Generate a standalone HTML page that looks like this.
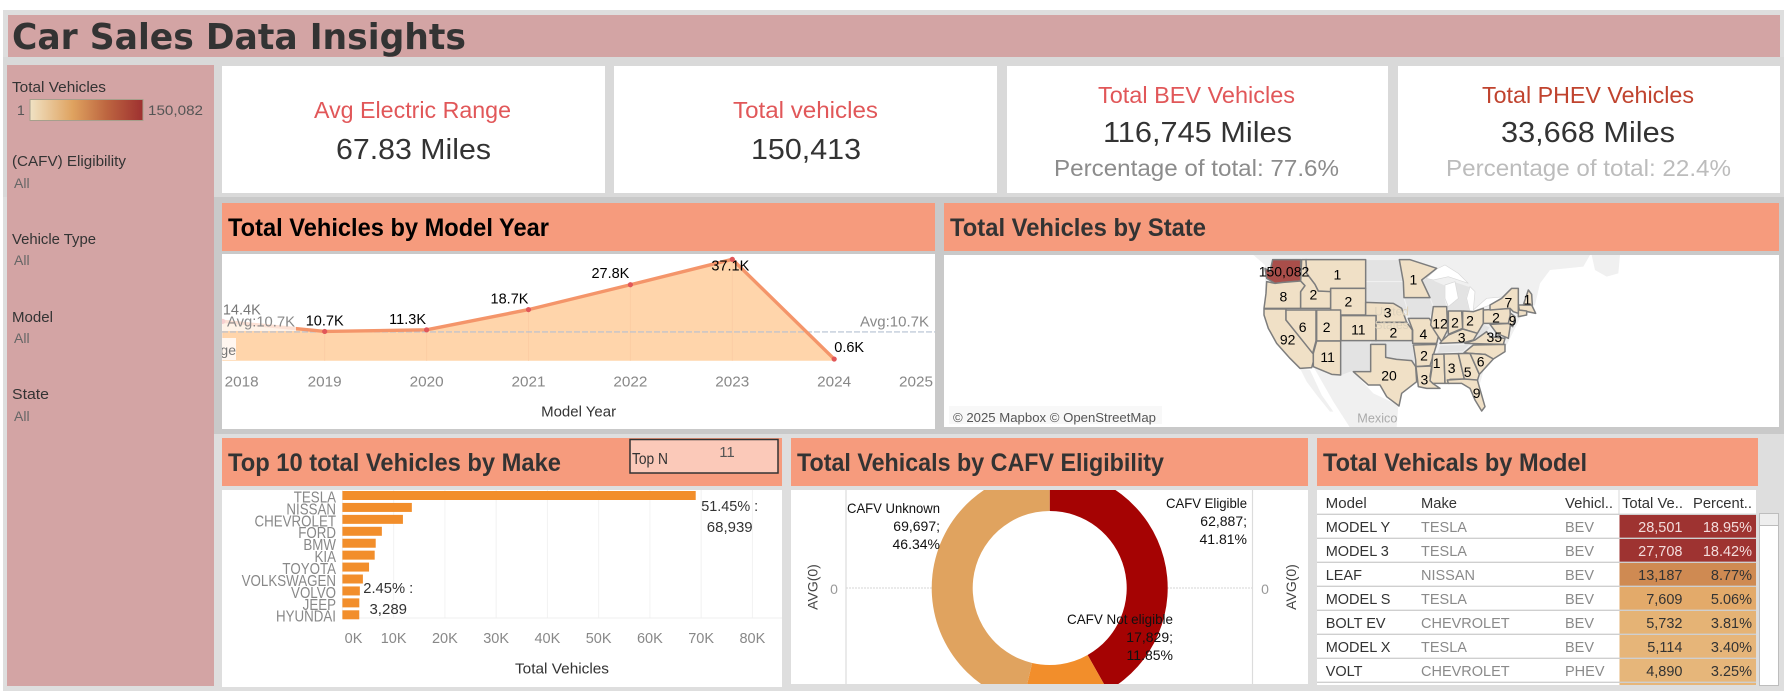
<!DOCTYPE html>
<html lang="en">
<head>
<meta charset="utf-8">
<title>Car Sales Data Insights</title>
<style>
html,body{margin:0;padding:0;background:#fff;width:1788px;height:691px;overflow:hidden}
svg{display:block}
text{font-family:"Liberation Sans",sans-serif}
.b{font-weight:bold}
</style>
</head>
<body>
<svg id="dash" xmlns="http://www.w3.org/2000/svg" width="1788" height="691" viewBox="0 0 1788 691">
<defs>
<linearGradient id="legendGrad" x1="0" x2="1" y1="0" y2="0">
<stop offset="0" stop-color="#f0e2c4"/><stop offset=".38" stop-color="#dfa25f"/><stop offset=".68" stop-color="#bd6540"/><stop offset="1" stop-color="#9e3030"/>
</linearGradient>
<clipPath id="lineClip"><rect x="222" y="254" width="713" height="175"/></clipPath>
<clipPath id="donutClip"><rect x="791" y="490" width="517" height="194"/></clipPath>
<clipPath id="mapClip"><rect x="944" y="255" width="835" height="172"/></clipPath>
</defs>

<rect x="3" y="10" width="1781" height="681" fill="#dedede"/>
<rect x="3" y="57" width="1781" height="140" fill="#d9d9d9"/>
<rect x="214" y="197" width="1570" height="237" fill="#c9c9c9"/>

<rect x="8" y="15" width="1772" height="42" fill="#d3a4a4"/>
<text class="b" x="12" y="49" font-size="36" fill="#333" textLength="454" lengthAdjust="spacingAndGlyphs" style="font-family:'DejaVu Sans',sans-serif">Car Sales Data Insights</text>

<g>
<rect x="7" y="65" width="207" height="621" fill="#d3a4a4"/>
<text x="12" y="92" font-size="15" fill="#333" textLength="94" lengthAdjust="spacingAndGlyphs">Total Vehicles</text>
<text x="17" y="115" font-size="14" fill="#555">1</text>
<rect x="30" y="99.5" width="113" height="21" fill="url(#legendGrad)" stroke="#a79f8c" stroke-width="1"/>
<text x="148" y="115" font-size="14" fill="#555" textLength="55" lengthAdjust="spacingAndGlyphs">150,082</text>
<text x="12" y="166" font-size="15" fill="#333" textLength="114" lengthAdjust="spacingAndGlyphs">(CAFV) Eligibility</text>
<text x="14" y="188" font-size="14" fill="#666">All</text>
<text x="12" y="244" font-size="15" fill="#333" textLength="84" lengthAdjust="spacingAndGlyphs">Vehicle Type</text>
<text x="14" y="265" font-size="14" fill="#666">All</text>
<text x="12" y="322" font-size="15" fill="#333" textLength="41" lengthAdjust="spacingAndGlyphs">Model</text>
<text x="14" y="343" font-size="14" fill="#666">All</text>
<text x="12" y="399" font-size="15" fill="#333" textLength="37" lengthAdjust="spacingAndGlyphs">State</text>
<text x="14" y="421" font-size="14" fill="#666">All</text>
</g>

<g>
<rect x="222" y="66" width="383" height="127" fill="#fff"/>
<text x="314" y="118" font-size="23" fill="#e15759" textLength="197" lengthAdjust="spacingAndGlyphs">Avg Electric Range</text>
<text x="336" y="159" font-size="29" fill="#333" textLength="155" lengthAdjust="spacingAndGlyphs">67.83 Miles</text>
</g>
<g>
<rect x="614" y="66" width="383" height="127" fill="#fff"/>
<text x="733" y="118" font-size="23" fill="#e15759" textLength="145" lengthAdjust="spacingAndGlyphs">Total vehicles</text>
<text x="751" y="159" font-size="29" fill="#333" textLength="110" lengthAdjust="spacingAndGlyphs">150,413</text>
</g>
<g>
<rect x="1007" y="66" width="381" height="127" fill="#fff"/>
<text x="1098" y="103" font-size="23" fill="#e15759" textLength="197" lengthAdjust="spacingAndGlyphs">Total BEV Vehicles</text>
<text x="1103" y="142" font-size="29" fill="#333" textLength="189" lengthAdjust="spacingAndGlyphs">116,745 Miles</text>
<text x="1054" y="176" font-size="23" fill="#8c8c8c" textLength="285" lengthAdjust="spacingAndGlyphs">Percentage of total: 77.6%</text>
</g>
<g>
<rect x="1398" y="66" width="382" height="127" fill="#fff"/>
<text x="1482" y="103" font-size="23" fill="#c0432e" textLength="212" lengthAdjust="spacingAndGlyphs">Total PHEV Vehicles</text>
<text x="1501" y="142" font-size="29" fill="#333" textLength="174" lengthAdjust="spacingAndGlyphs">33,668 Miles</text>
<text x="1446" y="176" font-size="23" fill="#bcbcbc" textLength="285" lengthAdjust="spacingAndGlyphs">Percentage of total: 22.4%</text>
</g>

<rect x="222" y="203" width="713" height="48" fill="#f69b7d"/>
<text class="b" x="228" y="236" font-size="25" fill="#000" textLength="321" lengthAdjust="spacingAndGlyphs">Total Vehicles by Model Year</text>
<rect x="222" y="254" width="713" height="175" fill="#fff"/>
<g id="lineChart"></g>

<rect x="944" y="203" width="835" height="48" fill="#f69b7d"/>
<text class="b" x="950" y="236" font-size="25" fill="#333" textLength="256" lengthAdjust="spacingAndGlyphs">Total Vehicles by State</text>
<rect x="944" y="255" width="835" height="172" fill="#fff"/>
<g id="mapChart" clip-path="url(#mapClip)"></g>
<rect x="949" y="406" width="213" height="18" fill="#f8f8f8"/>
<text x="953" y="422" font-size="13" fill="#555" textLength="203" lengthAdjust="spacingAndGlyphs">© 2025 Mapbox © OpenStreetMap</text>

<rect x="222" y="438" width="560" height="48" fill="#f69b7d"/>
<text class="b" x="228" y="471" font-size="25" fill="#333" textLength="333" lengthAdjust="spacingAndGlyphs">Top 10 total Vehicles by Make</text>
<rect x="630" y="439.5" width="148" height="33.5" fill="#fbc9b9" stroke="#333" stroke-width="1.5"/>
<text x="632" y="464" font-size="16" fill="#333" textLength="36" lengthAdjust="spacingAndGlyphs">Top N</text>
<text x="727" y="457" font-size="15" fill="#555" text-anchor="middle">11</text>
<rect x="222" y="490" width="560" height="197" fill="#fff"/>
<g id="barChart"></g>

<rect x="791" y="438" width="517" height="48" fill="#f69b7d"/>
<text class="b" x="797" y="471" font-size="25" fill="#333" textLength="367" lengthAdjust="spacingAndGlyphs">Total Vehicals by CAFV Eligibility</text>
<rect x="791" y="490" width="517" height="194" fill="#fff"/>
<g id="donutChart"></g>

<rect x="1317" y="438" width="441" height="48" fill="#f69b7d"/>
<text class="b" x="1323" y="471" font-size="25" fill="#333" textLength="264" lengthAdjust="spacingAndGlyphs">Total Vehicals by Model</text>
<rect x="1317" y="490" width="439" height="195" fill="#fff"/>
<g id="modelTable"></g>
<rect x="1759.5" y="513.5" width="19" height="172" fill="#fff" stroke="#bdbdbd" stroke-width="1"/>
<rect x="1759.5" y="513.5" width="19" height="12" fill="#eeeeee" stroke="#bdbdbd" stroke-width="1"/>
</svg>

<script>
// ---------- Line chart data ----------
const modelYears = [2018, 2019, 2020, 2021, 2022, 2023, 2024];
const yearVehiclesK = [14.4, 10.7, 11.3, 18.7, 27.8, 37.1, 0.6];
const yearTickLabels = [2018, 2019, 2020, 2021, 2022, 2023, 2024, 2025];
const averageK = [10.7];

// ---------- Bar chart data ----------
const makes = ['TESLA','NISSAN','CHEVROLET','FORD','BMW','KIA','TOYOTA','VOLKSWAGEN','VOLVO','JEEP','HYUNDAI'];
const makeVehicles = [68939, 13550, 11811, 7700, 6500, 6300, 5200, 4000, 3404, 3300, 3289];
const makeTickValues = [0, 10000, 20000, 30000, 40000, 50000, 60000, 70000, 80000];

// ---------- Donut data ----------
const cafvCategories = ['CAFV Eligible', 'CAFV Not eligible', 'CAFV Unknown'];
const cafvVehicles = [62887, 17829, 69697];

// ---------- Table data ----------
const tableModels = ['MODEL Y','MODEL 3','LEAF','MODEL S','BOLT EV','MODEL X','VOLT'];
const tableMakes = ['TESLA','TESLA','NISSAN','TESLA','CHEVROLET','TESLA','CHEVROLET'];
const tableTypes = ['BEV','BEV','BEV','BEV','BEV','BEV','PHEV'];
const tableTotals = [28501, 27708, 13187, 7609, 5732, 5114, 4890];
const tablePercents = [18.95, 18.42, 8.77, 5.06, 3.81, 3.40, 3.25];

// ---------- Map data ----------
const stateNames = ['WA','OR','ID','MT','WY','NE','CA','NV','UT','CO','KS','AZ','TX','MO','AR','LA','MS','AL','GA','SC','FL','IL','IN','OH','KY','VA','PA','NY','NJ','ME','MN'];
const stateVehicles = [150082,8,2,1,2,3,92,6,2,11,2,11,20,4,2,3,1,3,5,6,9,12,2,2,3,35,2,7,9,1,1];

var NS = 'http://www.w3.org/2000/svg';
function mk(tag, attrs, parent) {
  var e = document.createElementNS(NS, tag);
  for (var k in attrs) e.setAttribute(k, attrs[k]);
  parent.appendChild(e);
  return e;
}
function txt(parent, str, x, cy, fs, fill, anchor, len) {
  var a = {x: x, y: cy + fs * 0.35, 'font-size': fs, fill: fill, 'text-anchor': anchor || 'start'};
  if (len) { a.textLength = len; a.lengthAdjust = 'spacingAndGlyphs'; }
  var e = mk('text', a, parent);
  e.textContent = str;
  return e;
}
function thousands(v) { return v.toLocaleString('en-US'); }
function mix(c1, c2, t) {
  var o = [];
  for (var i = 0; i < 3; i++) o.push(Math.round(c1[i] + (c2[i] - c1[i]) * t));
  return 'rgb(' + o.join(',') + ')';
}

/* ---------- LINE / AREA CHART ---------- */
(function () {
  var root = document.getElementById('lineChart');
  var xYear = function (y) { return 324.7 + (y - 2019) * 101.9; };
  var yVal = function (v) { return 360.7 - v * 2.733; };
  var g = mk('g', {'clip-path': 'url(#lineClip)'}, root);

  var pts = modelYears.map(function (y, i) { return xYear(y) + ',' + yVal(yearVehiclesK[i]); });
  var area = mk('polygon', {
    points: xYear(modelYears[0]) + ',' + yVal(0) + ' ' + pts.join(' ') + ' ' + xYear(modelYears[modelYears.length - 1]) + ',' + yVal(0),
    fill: '#ffd5ab'
  }, g);
  
  

  modelYears.forEach(function (y, i) {
    var d = mk('line', {x1: xYear(y), x2: xYear(y), y1: yVal(yearVehiclesK[i]), y2: yVal(0), stroke: '#fccda4', 'stroke-width': 1}, g);
    
    
  });

  var avgY = yVal(averageK[0]);
  var avg = mk('line', {x1: 222, x2: 935, y1: avgY + 0.5, y2: avgY + 0.5, stroke: '#b4c0d2', 'stroke-width': 1.2, 'stroke-dasharray': '6 2'}, g);
  
  

  var line = mk('polyline', {points: pts.join(' '), fill: 'none', stroke: '#f4956a', 'stroke-width': 3.4, 'stroke-linejoin': 'round'}, g);
  
  

  modelYears.forEach(function (y, i) {
    var c = mk('circle', {cx: xYear(y), cy: yVal(yearVehiclesK[i]), r: 2.6, fill: '#e15759'}, g);
    
    
  });

  var veilL = mk('rect', {x: 222, y: 311, width: 74, height: 20, fill: '#fff', opacity: 0.72}, g);
  
  

  var stub = mk('rect', {x: 222, y: 338, width: 14, height: 22, fill: '#fff6ef'}, g);
  
  
  var stubT = txt(g, 'ge', 236, 350, 14, '#777', 'end');
  
  

  var nudgeX = {2018: 19, 2019: 0, 2020: -19, 2021: -19, 2022: -20, 2023: -2, 2024: 15};
  var nudgeY = {2018: -12, 2019: -11, 2020: -11, 2021: -11, 2022: -12, 2023: 6, 2024: -12};
  modelYears.forEach(function (y, i) {
    var t = txt(g, yearVehiclesK[i].toFixed(1) + 'K', xYear(y) + nudgeX[y], yVal(yearVehiclesK[i]) + nudgeY[y], 14.5, y === 2018 ? '#777' : '#000', 'middle');
    
    
  });

  var a1 = txt(g, 'Avg:' + averageK[0].toFixed(1) + 'K', 227, avgY - 10, 14.5, '#888', 'start', 68);
  
  
  var a2 = txt(g, 'Avg:' + averageK[0].toFixed(1) + 'K', 860, avgY - 10, 14.5, '#888', 'start', 69);
  
  

  yearTickLabels.forEach(function (y) {
    var x = Math.min(916, Math.max(241.6, xYear(y)));
    var t = txt(root, String(y), x, 381, 15, '#888', 'middle', 34);
    
    
  });
  var title = txt(root, 'Model Year', 578.6, 411, 15, '#333', 'middle', 75);
  
  
})();

/* ---------- BAR CHART ---------- */
(function () {
  var root = document.getElementById('barChart');
  var xVal = function (v) { return 342.4 + v * 0.005125; };
  var yBand = function (i) { return 491 + i * 11.93; };
  makeTickValues.forEach(function (v) {
    var l = mk('line', {x1: xVal(v), x2: xVal(v), y1: 490, y2: 618, stroke: '#f2f2f2', 'stroke-width': 1}, root);
    
    
    var t = txt(root, (v / 1000) + 'K', Math.max(353.5, xVal(v)), 638, 14.5, '#888', 'middle');
    
    
  });
  var base = mk('line', {x1: 342, x2: 782, y1: 618, y2: 618, stroke: '#efefef', 'stroke-width': 1}, root);
  
  

  var total = makeVehicles.reduce(function (a, b) { return a + b; }, 0);
  var maxV = Math.max.apply(null, makeVehicles);
  var minV = Math.min.apply(null, makeVehicles);
  makes.forEach(function (m, i) {
    var b = mk('rect', {x: xVal(0), y: yBand(i), width: xVal(makeVehicles[i]) - xVal(0), height: 9, fill: '#f28e2b'}, root);
    
    
    var t = txt(root, m, 336, yBand(i) + 6, 15.5, '#888', 'end');
    t.setAttribute('textLength', t.getComputedTextLength() * 0.86);
    t.setAttribute('lengthAdjust', 'spacingAndGlyphs');
    
    
    if (makeVehicles[i] === maxV || makeVehicles[i] === minV) {
      var isMax = makeVehicles[i] === maxV;
      var cx = xVal(makeVehicles[i]) + (isMax ? 34 : 29);
      var cy = yBand(i) + 4.5 + (isMax ? 10 : -27);
      var p = txt(root, (makeVehicles[i] / total * 100).toFixed(2) + '% :', cx, cy, 15, '#333', 'middle', isMax ? 57 : 50);
      
      
      var q = txt(root, thousands(makeVehicles[i]), cx, cy + 21, 15, '#333', 'middle');
      
      
    }
  });
  var title = txt(root, 'Total Vehicles', 562, 668, 15, '#333', 'middle', 94);
  
  
})();

/* ---------- DONUT ---------- */
(function () {
  var root = document.getElementById('donutChart');
  var cx = 1049.7, cy = 588, rO = 118, rI = 77;
  var colors = ['#a50303', '#f28e2b', '#e0a35f'];
  var lp = [
    {right: 1247, y: 503, len: 81},
    {right: 1173, y: 619, len: 106},
    {right: 940, y: 508, len: 93}
  ];
  [846, 1252.5].forEach(function (x) {
    var l = mk('line', {x1: x, x2: x, y1: 490, y2: 684, stroke: '#dcdcdc', 'stroke-width': 1.2}, root);
    
    
  });
  [[846, 932], [1167, 1252]].forEach(function (s) {
    var l = mk('line', {x1: s[0], x2: s[1], y1: 588, y2: 588, stroke: '#d5d5d5', 'stroke-width': 1, 'stroke-dasharray': '2 1'}, root);
    
    
  });
  var g = mk('g', {'clip-path': 'url(#donutClip)'}, root);
  var total = cafvVehicles.reduce(function (a, b) { return a + b; }, 0);
  var acc = 0;
  function pt(r, a) { return (cx + r * Math.sin(a)) + ' ' + (cy - r * Math.cos(a)); }
  cafvVehicles.forEach(function (v, i) {
    var a0 = acc / total * 2 * Math.PI;
    acc += v;
    var a1 = acc / total * 2 * Math.PI;
    var large = (a1 - a0) > Math.PI ? 1 : 0;
    var d = 'M' + pt(rO, a0) + ' A' + rO + ' ' + rO + ' 0 ' + large + ' 1 ' + pt(rO, a1) +
            ' L' + pt(rI, a1) + ' A' + rI + ' ' + rI + ' 0 ' + large + ' 0 ' + pt(rI, a0) + ' Z';
    var s = mk('path', {d: d, fill: colors[i]}, g);
    
    
  });
  cafvCategories.forEach(function (c, i) {
    var p = lp[i];
    var a = txt(root, c, p.right, p.y, 14, '#111', 'end', p.len);
    
    
    var b = txt(root, thousands(cafvVehicles[i]) + ';', p.right, p.y + 18, 14, '#111', 'end');
    
    
    var e = txt(root, (cafvVehicles[i] / total * 100).toFixed(2) + '%', p.right, p.y + 36, 14, '#111', 'end');
    
    
  });
  var z1 = txt(root, '0', 834, 589, 14, '#999', 'middle');
  
  
  var z2 = txt(root, '0', 1265, 589, 14, '#999', 'middle');
  
  
  [812.7, 1291].forEach(function (x) {
    var t = mk('text', {x: 0, y: 0, 'font-size': 14, fill: '#444', 'text-anchor': 'middle', transform: 'translate(' + (x + 5) + ',587) rotate(-90)'}, root);
    t.textContent = 'AVG(0)';
    
    
  });
})();

/* ---------- TABLE ---------- */
(function () {
  var root = document.getElementById('modelTable');
  var rowTop = function (i) { return 514.3 + i * 24; };
  var lo = [230, 182, 122], mid = [227, 170, 106], hi2 = [207, 138, 82], top = [158, 51, 49];
  function heat(v) {
    if (v <= 5000) return mix(lo, lo, 0);
    if (v <= 7600) return mix(lo, mid, (v - 5000) / 2600);
    if (v <= 13200) return mix(mid, hi2, (v - 7600) / 5600);
    return mix(hi2, top, Math.min(1, (v - 13200) / 14500));
  }
  var heads = [['Model', 1325.7, 'start', 41], ['Make', 1421, 'start', 36], ['Vehicl..', 1565, 'start', 48], ['Total Ve..', 1622, 'start', 61], ['Percent..', 1693, 'start', 59]];
  heads.forEach(function (h) {
    var t = txt(root, h[0], h[1], 502.7, 14.5, '#333', h[2], h[3]);
    
    
  });
  tableModels.forEach(function (m, i) {
    var y = rowTop(i);
    var r = mk('rect', {x: 1619.5, y: y + 0.5, width: 136.5, height: 23.5, fill: heat(tableTotals[i])}, root);
    
    
    var tc = tableTotals[i] > 20000 ? '#f3dcdc' : '#333';
    var a = txt(root, m, 1325.7, y + 12.5, 14.5, '#333', 'start');
    
    
    var b = txt(root, tableMakes[i], 1421, y + 12.5, 14.5, '#8a8a8a', 'start');
    
    
    var c = txt(root, tableTypes[i], 1565, y + 12.5, 14.5, '#8a8a8a', 'start');
    
    
    var d = txt(root, thousands(tableTotals[i]), 1682.5, y + 12.5, 14.5, tc, 'end');
    
    
    var e = txt(root, tablePercents[i].toFixed(2) + '%', 1752, y + 12.5, 14.5, tc, 'end');
    
    
  });
  for (var i = 0; i <= tableModels.length; i++) {
    var l = mk('line', {x1: 1317, x2: 1756, y1: rowTop(i), y2: rowTop(i), stroke: '#cfcfcf', 'stroke-width': 1.4}, root);
    
    
  }
  var p = mk('rect', {x: 1619.5, y: 683, width: 136.5, height: 2, fill: '#e6b67a'}, root);
  
  
  var dv = mk('line', {x1: 1619, x2: 1619, y1: 490, y2: 514, stroke: '#d8d8d8', 'stroke-width': 1}, root);
  
  
})();

/* ---------- MAP ---------- */
(function () {
  var root = document.getElementById('mapChart');
  var g = mk('g', {transform: 'translate(1220,250) scale(0.33333)'}, root);

  var landShapes = [
    '100,15 1110,15 1090,50 990,60 960,100 945,165 900,205 860,285 800,330 780,400 700,400 590,400 530,400 445,405 400,365 280,350 135,180 135,45',
    '280,350 362,375 400,365 460,430 535,465 530,533 390,533 340,455 300,385',
    '240,355 270,360 305,435 340,485 330,485 290,435 260,395',
    '1115,15 1200,15 1195,70 1160,80 1125,60'
  ];
  landShapes.forEach(function (s) {
    var p = mk('polygon', {points: s, fill: '#f0f0f0'}, g);
    
    
  });
  var noData = {
    ND: '437,29 538,29 550,95 437,95',
    SD: '437,95 550,95 552,143 570,205 545,175 520,160 437,157',
    IA: '552,143 630,143 645,170 628,205 570,205',
    NM: '363,273 452,273 452,365 395,365 363,377',
    OK: '452,273 577,272 587,350 575,332 530,328 497,322 497,283 452,283',
    TN: '660,285 750,283 730,305 650,311',
    WV: '772,250 790,222 812,232 800,245 765,270 760,270',
    WI: '605,90 618,85 640,90 675,105 675,145 680,170 640,170 630,143',
    MI: '675,105 705,95 750,110 740,145 750,187 728,183 685,183 680,170'
  };
  Object.keys(noData).forEach(function (k) {
    var p = mk('polygon', {points: noData[k], fill: '#e3e3e3', stroke: '#f0f0f0', 'stroke-width': 3}, g);
    
    
  });
  var lakes = [
    '618,85 650,57 675,45 715,70 745,100 685,80 640,90',
    '675,105 705,95 715,145 685,170 675,145',
    '750,110 765,125 760,180 800,145 855,140 810,165 750,187 740,145'
  ];
  lakes.forEach(function (s) {
    var p = mk('polygon', {points: s, fill: '#fff', stroke: '#d8d8d8', 'stroke-width': 2}, g);
    
    
  });

  var outline = {
    WA: '158,29 242,29 242,93 190,97 165,100 140,85 135,55 150,65',
    OR: '140,95 165,100 190,97 242,93 255,107 242,125 242,175 132,175 138,130',
    ID: '245,29 258,29 260,70 285,103 295,123 332,123 332,175 242,175 242,125 255,107 242,93',
    MT: '258,29 437,29 437,115 332,115 332,125 295,123 285,103 260,70',
    WY: '332,115 437,115 437,195 332,195',
    NE: '437,157 520,160 545,175 560,217 468,217 468,197 437,197',
    CA: '132,177 198,177 198,210 280,310 280,335 275,353 240,355 210,325 170,280 145,235 132,195',
    NV: '198,180 288,180 288,273 278,310 198,210',
    UT: '290,180 362,180 362,273 290,273',
    CO: '363,197 468,197 468,272 363,272',
    KS: '468,217 560,217 577,240 577,272 468,272',
    AZ: '290,273 362,273 362,375 335,373 280,350 280,310',
    TX: '452,283 497,283 497,322 530,328 575,332 587,350 590,395 545,430 537,468 500,440 480,405 445,405 400,365 452,365',
    MO: '565,205 628,205 640,225 655,260 650,280 578,280 578,240',
    AR: '580,285 650,283 630,347 588,350 587,330',
    LA: '588,350 635,348 630,380 638,400 660,415 620,415 595,410',
    MS: '638,313 672,312 675,400 638,400 630,392 635,360',
    AL: '672,312 715,311 733,387 690,388 688,400 675,400',
    GA: '715,311 750,310 778,373 772,392 733,387',
    SC: '750,310 795,313 820,327 778,373',
    FL: '682,390 732,387 772,390 795,470 785,483 765,450 750,415 725,400 685,400',
    IL: '640,170 680,170 683,240 665,275 655,260 632,225',
    IN: '685,183 725,183 728,235 685,253',
    OH: '728,183 760,185 790,175 790,220 772,250 728,237',
    KY: '660,280 665,273 685,255 728,237 772,250 760,270 735,277',
    VA: '735,280 765,270 800,245 810,260 855,265 850,283',
    PA: '790,180 870,175 872,220 790,220',
    NY: '810,165 845,145 875,115 895,115 895,190 880,185 870,175 810,180',
    NJ: '872,190 885,200 878,230 865,220',
    ME: '910,165 925,120 935,133 937,165',
    MN: '538,29 570,29 650,55 605,90 630,143 552,143 550,95'
  };
  var paleExtras = {
    NC: '732,308 760,285 855,283 855,305 820,327 795,313 750,310',
    MD: '810,223 872,220 865,265 830,250',
    MA: '895,165 935,165 947,190 898,180',
    CT: '895,180 920,183 920,195 895,200'
  };
  var labelAt = {
    WA: [192,65], OR: [190,140], ID: [280,135], MT: [352,75], WY: [385,155], NE: [503,188], CA: [203,270],
    NV: [248,232], UT: [320,232], CO: [415,240], KS: [520,248], AZ: [323,322], TX: [507,378], MO: [610,253],
    AR: [612,318], LA: [613,390], MS: [650,340], AL: [695,355], GA: [743,367], SC: [782,335], FL: [770,430],
    IL: [660,222], IN: [705,218], OH: [750,213], KY: [725,263], VA: [823,262], PA: [828,203], NY: [865,158],
    NJ: [878,213], ME: [922,150], MN: [580,90]
  };
  var low = [240, 224, 198], high = [169, 78, 74];
  var colorOf = function (v) { return mix(low, high, (v - 1) / (150082 - 1)); };

  Object.keys(paleExtras).forEach(function (k) {
    var p = mk('polygon', {points: paleExtras[k], fill: colorOf(1), stroke: '#7d7d7d', 'stroke-width': 4.5, 'stroke-linejoin': 'round'}, g);
    
    
  });
  stateNames.forEach(function (s, i) {
    var p = mk('polygon', {points: outline[s], fill: colorOf(stateVehicles[i]), stroke: '#7d7d7d', 'stroke-width': 4.5, 'stroke-linejoin': 'round'}, g);
    
    
  });
  var us1 = mk('text', {x: 515, y: 197, 'font-size': 36, fill: '#ddd2bc', 'text-anchor': 'middle'}, g);
  us1.textContent = 'United';
  
  
  var us2 = mk('text', {x: 515, y: 237, 'font-size': 36, fill: '#ddd2bc', 'text-anchor': 'middle'}, g);
  us2.textContent = 'States';
  
  
  stateNames.forEach(function (s, i) {
    var at = labelAt[s];
    var t = mk('text', {x: at[0], y: at[1] + 14, 'font-size': 42, fill: '#000', 'text-anchor': 'middle'}, g);
    t.textContent = thousands(stateVehicles[i]);
    
    
  });
  var mx = mk('text', {x: 472, y: 518, 'font-size': 38, fill: '#aaa', 'text-anchor': 'middle'}, g);
  mx.textContent = 'Mexico';
  
  
})();
</script>
</body>
</html>
